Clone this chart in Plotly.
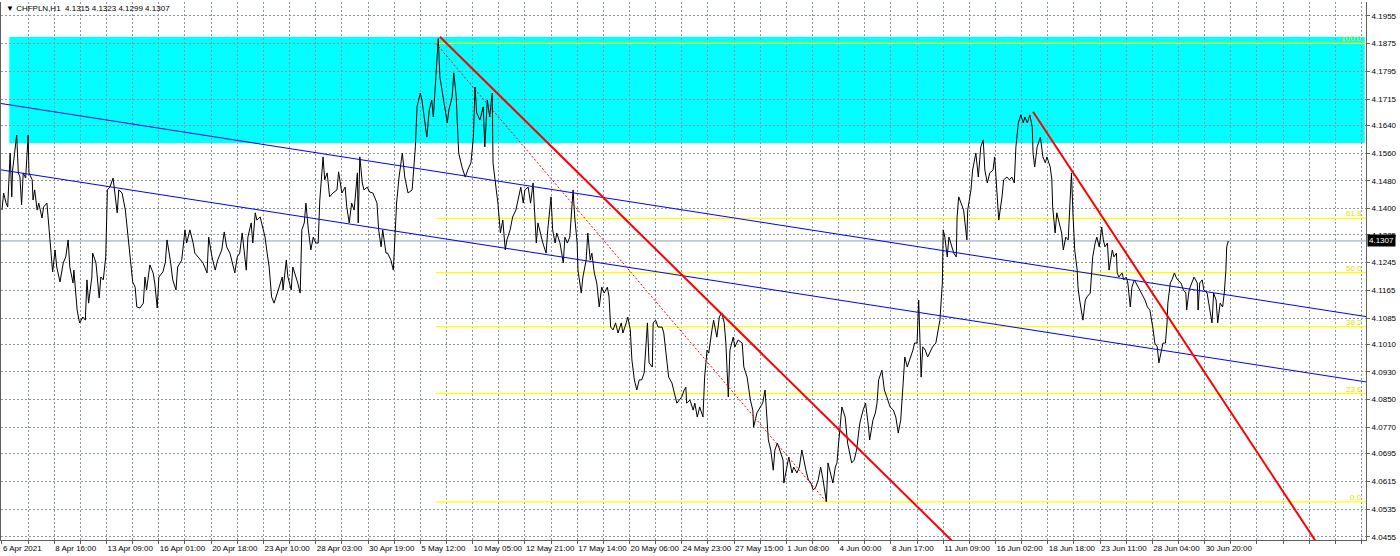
import plotly.graph_objects as go

# ---------------- data ----------------
bar_index = [
    0, 2, 5, 7, 10, 12, 13, 16, 18, 20, 22, 24, 26, 29, 32, 33, 37, 38, 40, 43,
    45, 49, 51, 55, 59, 62, 65, 67, 71, 75, 78, 81, 83, 87, 88, 92, 95, 99, 102, 104,
    106, 110, 111, 115, 119, 121, 124, 127, 129, 132, 136, 138, 141, 143, 147, 151, 153, 157, 160, 163,
    165, 169, 173, 175, 177, 181, 185, 187, 190, 192, 197, 200, 202, 206, 209, 213, 215, 220, 224, 226,
    230, 234, 236, 241, 246, 251, 253, 257, 261, 264, 269, 272, 275, 279, 283, 285, 288, 291, 294, 296,
    299, 301, 305, 307, 310, 312, 316, 319, 322, 324, 327, 330, 333, 337, 339, 343, 344, 348, 350, 354,
    356, 360, 362, 365, 367, 370, 372, 375, 378, 381, 384, 387, 389, 393, 395, 398, 401, 405, 410, 412,
    416, 420, 422, 425, 428, 431, 435, 436, 438, 441, 443, 447, 450, 454, 459, 461, 464, 466, 470, 472,
    476, 479, 481, 483, 486,
    490, 493, 497, 502, 506, 508, 512, 514, 517, 520, 523, 526, 528, 530, 532, 534, 536, 540, 542, 545,
    547, 551, 553, 556, 557, 559, 563, 567, 570, 574, 577, 579, 581, 585, 589, 591, 594, 597, 600, 601,
    605, 607, 610, 613, 616, 618, 622, 625, 629, 632, 635, 638, 640, 644, 647, 650, 654, 656, 660, 662,
    666, 668, 672, 674, 677, 679, 683, 687, 689, 692, 695, 699, 701, 704, 705, 709, 711, 715, 717, 720,
    722, 725, 728, 731, 734, 737, 741, 743, 745, 748, 751, 754, 758, 760, 764, 766, 769, 771, 774, 777,
    780, 783, 786, 788, 790, 792, 796, 797, 800, 803, 808, 810, 814, 816, 820, 823, 826, 829, 832, 835,
    837, 838, 842, 846, 848, 851, 854, 858, 860, 863, 865, 869, 871, 875, 878, 881, 884, 886, 889, 891,
    895, 897, 901, 906, 908, 912, 916, 919, 920, 924, 928, 931, 934, 936, 938, 941, 944, 946, 949, 952,
    956, 957, 961, 963, 967, 969, 973, 976, 979, 982, 984, 987, 990, 993, 996, 999, 1002, 1005, 1009, 1011,
    1015, 1017, 1020, 1022, 1024, 1028, 1032, 1035, 1040, 1043, 1046,
    1050, 1054, 1057, 1060, 1062, 1066, 1069, 1071, 1073, 1077, 1080, 1083, 1087, 1091, 1094, 1097, 1100, 1103, 1105, 1108,
    1111, 1115, 1117, 1120, 1122, 1125, 1127, 1130, 1133, 1137, 1139, 1143, 1146, 1148, 1151, 1152, 1154, 1157, 1159, 1163,
    1165, 1168, 1169, 1171, 1175, 1177, 1181, 1182, 1186, 1188, 1192, 1195, 1198, 1201, 1203, 1206, 1209, 1213, 1215, 1218,
    1220, 1224, 1226, 1230, 1233, 1236, 1239, 1241, 1244, 1247, 1250, 1252, 1255, 1258, 1261, 1262, 1264, 1267, 1271, 1274,
    1277, 1279, 1283, 1285, 1286, 1289, 1291, 1294, 1297, 1299, 1302, 1305, 1309, 1311, 1313, 1316, 1317, 1319, 1323, 1326,
    1328, 1332, 1334, 1335, 1338, 1340, 1343, 1346, 1348, 1350, 1353, 1355, 1359, 1361, 1364, 1365, 1367, 1371, 1373, 1376,
    1378, 1381, 1383, 1386, 1388, 1391, 1393, 1397, 1399, 1402, 1405, 1408, 1409, 1411, 1414, 1416, 1419, 1421, 1424, 1426,
    1427, 1430, 1432, 1435, 1437, 1439, 1443, 1446, 1449, 1450, 1453, 1457, 1459, 1463, 1464, 1466, 1469, 1471, 1475, 1477,
    1481, 1483, 1486, 1488, 1491, 1494, 1496, 1498, 1499, 1501,
]

close_price = [
    4.1396, 4.1445, 4.1416, 4.1405, 4.1560, 4.1434, 4.1511, 4.1583, 4.1612, 4.1503,
    4.1491, 4.1411, 4.1503, 4.1488, 4.1612, 4.1503, 4.1483, 4.1425, 4.1454, 4.1396,
    4.1416, 4.1373, 4.1405, 4.1416, 4.1310, 4.1218, 4.1281, 4.1232, 4.1189, 4.1244,
    4.1261, 4.1310, 4.1232, 4.1186, 4.1223, 4.1108, 4.1071, 4.1088, 4.1079, 4.1195,
    4.1128, 4.1203, 4.1272, 4.1244, 4.1143, 4.1203, 4.1195, 4.1261, 4.1454, 4.1462,
    4.1488, 4.1454, 4.1388, 4.1454, 4.1445, 4.1396, 4.1347, 4.1261, 4.1189, 4.1174,
    4.1117, 4.1114, 4.1128, 4.1203, 4.1166, 4.1238, 4.1215, 4.1186, 4.1114, 4.1203,
    4.1218, 4.1246, 4.1310, 4.1252, 4.1195, 4.1166, 4.1232, 4.1252, 4.1339, 4.1301,
    4.1339, 4.1301, 4.1272, 4.1258, 4.1244, 4.1215, 4.1318, 4.1261, 4.1223, 4.1252,
    4.1281, 4.1333, 4.1290, 4.1272, 4.1232, 4.1215, 4.1261, 4.1272, 4.1330, 4.1290,
    4.1223, 4.1318, 4.1359, 4.1301, 4.1388, 4.1367, 4.1376, 4.1347, 4.1318, 4.1281,
    4.1232, 4.1146, 4.1128, 4.1157, 4.1174, 4.1203, 4.1166, 4.1252, 4.1203, 4.1166,
    4.1232, 4.1203, 4.1186, 4.1157, 4.1339, 4.1359, 4.1416, 4.1339, 4.1281, 4.1318,
    4.1301, 4.1301, 4.1425, 4.1549, 4.1483, 4.1503, 4.1434, 4.1445, 4.1454, 4.1506,
    4.1445, 4.1462, 4.1405, 4.1359, 4.1416, 4.1396, 4.1503, 4.1359, 4.1549, 4.1474,
    4.1454, 4.1462, 4.1448, 4.1445, 4.1416, 4.1339, 4.1290, 4.1339, 4.1272, 4.1272,
    4.1252, 4.1223, 4.1339, 4.1416, 4.1491,
    4.1560, 4.1491, 4.1445, 4.1454, 4.1578, 4.1693, 4.1733, 4.1713, 4.1655, 4.1606,
    4.1684, 4.1713, 4.1664, 4.1742, 4.1837, 4.1890, 4.1779, 4.1722, 4.1684, 4.1647,
    4.1684, 4.1722, 4.1791, 4.1722, 4.1664, 4.1560, 4.1520, 4.1491, 4.1511, 4.1532,
    4.1606, 4.1750, 4.1676, 4.1655, 4.1693, 4.1578, 4.1713, 4.1664, 4.1733, 4.1532,
    4.1454, 4.1416, 4.1330, 4.1367, 4.1281, 4.1310, 4.1339, 4.1376, 4.1396, 4.1425,
    4.1462, 4.1416, 4.1454, 4.1462, 4.1416, 4.1474, 4.1301, 4.1359, 4.1318, 4.1301,
    4.1272, 4.1339, 4.1434, 4.1339, 4.1301, 4.1330, 4.1301, 4.1244, 4.1318, 4.1301,
    4.1318, 4.1454, 4.1376, 4.1301, 4.1223, 4.1157, 4.1203, 4.1252, 4.1330, 4.1252,
    4.1272, 4.1215, 4.1186, 4.1117, 4.1174, 4.1157, 4.1174, 4.1146, 4.1059, 4.1051,
    4.1071, 4.1042, 4.1071, 4.1042, 4.1071, 4.1088, 4.1051, 4.0964, 4.0907, 4.0878,
    4.0907, 4.0907, 4.0927, 4.0993, 4.1071, 4.0956, 4.0944, 4.1071, 4.1079, 4.1059,
    4.1059, 4.1042, 4.0956, 4.0915, 4.0898, 4.0869, 4.0840, 4.0849, 4.0858, 4.0878,
    4.0886, 4.0840, 4.0849, 4.0820, 4.0840, 4.0800, 4.0829, 4.0800, 4.0915, 4.0993,
    4.0984, 4.1051, 4.1079, 4.1030, 4.1088, 4.1100, 4.1071, 4.1013, 4.0858, 4.0993,
    4.1030, 4.1002, 4.1022, 4.1013, 4.0944, 4.0915, 4.0849, 4.0820, 4.0771, 4.0812,
    4.0829, 4.0840, 4.0878, 4.0800, 4.0734, 4.0705, 4.0647, 4.0705, 4.0725, 4.0705,
    4.0676, 4.0610, 4.0668, 4.0685, 4.0639, 4.0656, 4.0639, 4.0656, 4.0705, 4.0668,
    4.0647, 4.0619, 4.0610, 4.0590, 4.0598, 4.0619, 4.0656, 4.0619, 4.0556, 4.0668,
    4.0627, 4.0610, 4.0656, 4.0668, 4.0725, 4.0829, 4.0800, 4.0725, 4.0668, 4.0676,
    4.0705,
    4.0783, 4.0820, 4.0840, 4.0783, 4.0734, 4.0791, 4.0812, 4.0840, 4.0907, 4.0935,
    4.0878, 4.0858, 4.0829, 4.0820, 4.0800, 4.0754, 4.0791, 4.0898, 4.0973, 4.0944,
    4.0964, 4.0993, 4.1013, 4.1013, 4.1137, 4.0915, 4.1002, 4.0993, 4.0973, 4.0993,
    4.1002, 4.1013, 4.1051, 4.1079, 4.1186, 4.1339, 4.1318, 4.1261, 4.1318, 4.1290,
    4.1272, 4.1261, 4.1376, 4.1434, 4.1405, 4.1396, 4.1310, 4.1396, 4.1454, 4.1511,
    4.1560, 4.1491, 4.1578, 4.1598, 4.1511, 4.1474, 4.1503, 4.1511, 4.1549, 4.1454,
    4.1367, 4.1434, 4.1483, 4.1491, 4.1483, 4.1491, 4.1474, 4.1578, 4.1647, 4.1670,
    4.1647, 4.1664, 4.1647, 4.1670, 4.1635, 4.1560, 4.1520, 4.1578, 4.1606, 4.1549,
    4.1532, 4.1549, 4.1520, 4.1483, 4.1405, 4.1330, 4.1388, 4.1359, 4.1330, 4.1281,
    4.1318, 4.1310, 4.1503, 4.1376, 4.1281, 4.1223, 4.1174, 4.1137, 4.1079, 4.1137,
    4.1146, 4.1157, 4.1215, 4.1261, 4.1301, 4.1318, 4.1290, 4.1347, 4.1310, 4.1290,
    4.1301, 4.1223, 4.1281, 4.1261, 4.1272, 4.1215, 4.1203, 4.1215, 4.1195, 4.1203,
    4.1186, 4.1117, 4.1174, 4.1195, 4.1186, 4.1174, 4.1166, 4.1146, 4.1137, 4.1117,
    4.1108, 4.1071, 4.1051, 4.1013, 4.1002, 4.0956, 4.0993, 4.1013, 4.1013, 4.1071,
    4.1128, 4.1186, 4.1195, 4.1215, 4.1203, 4.1195, 4.1186, 4.1166, 4.1157, 4.1108,
    4.1166, 4.1195, 4.1203, 4.1186, 4.1108, 4.1186, 4.1195, 4.1166, 4.1157, 4.1128,
    4.1071, 4.1157, 4.1137, 4.1071, 4.1128, 4.1117, 4.1157, 4.1223, 4.1290, 4.1307,
]

# axis labels
date_labels = [
    "6 Apr 2021", "8 Apr 16:00", "13 Apr 09:00", "16 Apr 01:00", "20 Apr 18:00",
    "23 Apr 10:00", "28 Apr 03:00", "30 Apr 19:00", "5 May 12:00", "10 May 05:00",
    "12 May 21:00", "17 May 14:00", "20 May 06:00", "24 May 23:00", "27 May 15:00",
    "1 Jun 08:00", "4 Jun 00:00", "8 Jun 17:00", "11 Jun 09:00", "16 Jun 02:00",
    "18 Jun 18:00", "23 Jun 11:00", "28 Jun 04:00", "30 Jun 20:00",
]
price_labels = [
    "4.1955", "4.1875", "4.1795", "4.1715", "4.1640", "4.1560", "4.1480", "4.1400",
    "4.1325", "4.1245", "4.1165", "4.1085", "4.1010", "4.0930", "4.0850", "4.0770",
    "4.0695", "4.0615", "4.0535", "4.0455",
]

# chart objects (bar index / price anchors)
zone_bars = [9, 1668]
zone_prices = [4.1588, 4.1894]
fib_bars = [531, 1009]
fib_prices = [4.1876, 4.0556]
fib_levels = [0.0, 23.6, 38.2, 50.0, 61.8, 100.0]
fib_labels = ["0.0", "23.6", "38.2", "50.0", "61.8", "100.0"]
red1_bars = [536, 1173]
red1_prices = [4.1895, 4.0420]
red2_bars = [1262, 1626]
red2_prices = [4.1679, 4.0378]
blue_up_bars = [-2, 1670]
blue_up_prices = [4.1703, 4.1089]
blue_lo_bars = [-2, 1670]
blue_lo_prices = [4.1512, 4.0901]
last_price = 4.1307
header = "\u25BC CHFPLN,H1  4.1315 4.1323 4.1299 4.1307"

# ---------------- figure ----------------
FONT = "Liberation Sans, Arial, DejaVu Sans"
X_RANGE = [-1.2, 1669.5]
Y_RANGE = [4.0446, 4.1995]

fig = go.Figure()

fib_low, fib_high = fib_prices[1], fib_prices[0]
fib_values = [fib_low + (fib_high - fib_low) * lv / 100.0 for lv in fib_levels]
for val in fib_values:
    fig.add_trace(go.Scatter(x=[fib_bars[0], X_RANGE[1] + 5], y=[val, val], mode="lines",
                             line=dict(color="#ffff00", width=1.3), hoverinfo="skip"))

fig.add_trace(go.Scatter(x=X_RANGE, y=[last_price, last_price], mode="lines",
                         line=dict(color="#8c9db0", width=1), hoverinfo="skip"))

fig.add_trace(go.Scatter(x=bar_index, y=close_price, mode="lines",
                         line=dict(color="black", width=1), hoverinfo="skip"))

fig.add_trace(go.Scatter(x=blue_up_bars, y=blue_up_prices, mode="lines",
                         line=dict(color="#0000ff", width=1), hoverinfo="skip"))
fig.add_trace(go.Scatter(x=blue_lo_bars, y=blue_lo_prices, mode="lines",
                         line=dict(color="#0000ff", width=1), hoverinfo="skip"))
fig.add_trace(go.Scatter(x=fib_bars, y=fib_prices, mode="lines",
                         line=dict(color="#ff0000", width=1, dash="2px,2px"), hoverinfo="skip"))
fig.add_trace(go.Scatter(x=red1_bars, y=red1_prices, mode="lines",
                         line=dict(color="#ff0000", width=2), hoverinfo="skip"))
fig.add_trace(go.Scatter(x=red2_bars, y=red2_prices, mode="lines",
                         line=dict(color="#ff0000", width=2), hoverinfo="skip"))

fig.add_shape(type="rect", xref="x", yref="y", x0=zone_bars[0], x1=zone_bars[1],
              y0=zone_prices[0], y1=zone_prices[1], fillcolor="#00ffff",
              line=dict(width=0), layer="below")

annotations = []
for val, lab in zip(fib_values, fib_labels):
    annotations.append(dict(x=1667, y=val, xref="x", yref="y", text=lab, showarrow=False,
                            xanchor="right", yanchor="bottom", yshift=-2,
                            font=dict(family=FONT, size=8, color="#e0e000")))
annotations.append(dict(x=0, y=1, xref="paper", yref="paper", text=header, showarrow=False,
                        xanchor="left", yanchor="top", xshift=3, yshift=0,
                        font=dict(family=FONT, size=8, color="black")))
annotations.append(dict(x=1, y=last_price, xref="paper", yref="y", text=str(last_price),
                        showarrow=False, xanchor="left", yanchor="middle", xshift=1,
                        bgcolor="black", borderpad=1,
                        font=dict(family=FONT, size=8, color="white")))

grid_bars = list(range(0, 1665, 32))
grid_text = []
for i, b in enumerate(grid_bars):
    j = i // 2
    grid_text.append(date_labels[j] if (i % 2 == 0 and j < len(date_labels)) else "")

fig.update_layout(
    width=1400, height=556,
    margin=dict(l=1, r=34, t=2, b=16),
    paper_bgcolor="white", plot_bgcolor="white",
    showlegend=False,
    annotations=annotations,
    xaxis=dict(range=X_RANGE, tickmode="array", tickvals=grid_bars, ticktext=grid_text,
               ticklabelposition="outside right", tickangle=0, showgrid=True,
               gridcolor="#8896a6", griddash="2px,2px", gridwidth=1, zeroline=False,
               showline=True, linecolor="#606060", linewidth=1, ticks="outside", ticklen=3,
               tickcolor="#606060", automargin=False, fixedrange=True,
               ticklabelstandoff=0,
               tickfont=dict(family=FONT, size=8, color="black")),
    yaxis=dict(range=Y_RANGE, side="right", tickmode="array",
               tickvals=[float(t) for t in price_labels], ticktext=price_labels,
               showgrid=True, gridcolor="#8896a6", griddash="2px,2px", gridwidth=1,
               zeroline=False, showline=True, mirror=True, linecolor="#606060", linewidth=1,
               ticks="outside", ticklen=3, tickcolor="#606060", automargin=False,
               fixedrange=True, tickfont=dict(family=FONT, size=8, color="black")),
)

fig.write_html(
    "out.html",
    config={"displayModeBar": False},
    post_script="document.body.style.margin='0';document.body.style.padding='0';",
)
